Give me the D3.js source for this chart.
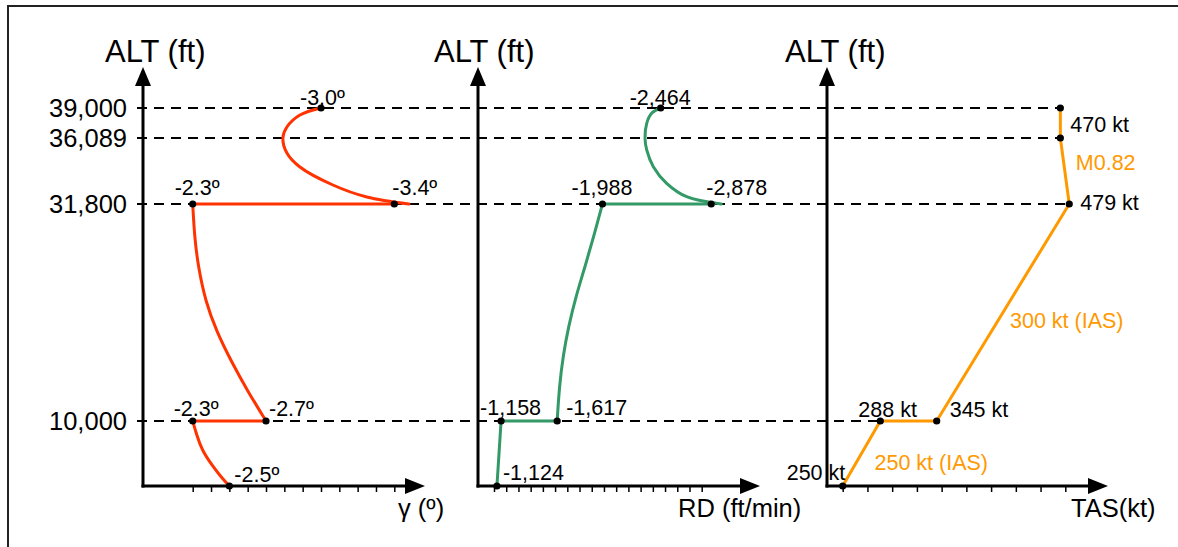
<!DOCTYPE html>
<html><head><meta charset="utf-8">
<script src="https://cdn.jsdelivr.net/npm/d3@7/dist/d3.min.js"></script>
<style>
body{margin:0;background:#fff;}
svg{display:block;}
text{font-family:"Liberation Sans",Arial,Helvetica,sans-serif;fill:#000;}
</style>
</head><body>
<svg id="chart" width="1178" height="547"></svg>
<script>
// ---------- DATA ----------
const altStops = [0, 10000, 31800, 36089, 39000];
const altTicks = [39000, 36089, 31800, 10000];

const gammaTicks = [2.3, 2.4, 2.5, 2.6, 2.7, 2.8, 2.9, 3.0, 3.1, 3.2, 3.3, 3.4];
const rdTicks = [1100, 1200, 1300, 1400, 1500, 1600, 1700, 1800, 1900, 2000, 2100, 2200, 2300, 2400, 2500, 2600, 2700, 2800];
const tasTicks = [250, 275, 300, 325, 350, 375, 400, 425, 450, 475];

// flight path angle (deg, magnitude) vs altitude
const gammaUpper = [[3.48,31800],[3.25,32255],[3.065,33035],[2.885,34204],[2.814,35114],[2.792,36089],[2.814,37156],[2.885,38321],[3.0,39000]];
const gammaStep31800 = [[2.3,31800],[3.4,31800]];
const gammaMid = [[2.3,31800],[2.31,28500],[2.33,25500],[2.37,22000],[2.43,19000],[2.51,16000],[2.6,13000],[2.7,10000]];
const gammaStep10000 = [[2.7,10000],[2.3,10000]];
const gammaLow = [[2.3,10000],[2.32,8000],[2.35,5500],[2.41,3000],[2.46,1200],[2.5,0]];
const gammaMarks = [[3.0,39000],[2.3,31800],[3.4,31800],[2.3,10000],[2.7,10000],[2.5,0]];

// rate of descent (ft/min, magnitude) vs altitude
const rdUpper = [[2960,31800],[2677,32274],[2513,33145],[2404,34225],[2350,35313],[2336,36089],[2350,37515],[2390,38486],[2464,39000]];
const rdStep31800 = [[1988,31800],[2878,31800]];
const rdMid = [[1988,31800],[1915,28500],[1845,25500],[1770,22500],[1710,19500],[1665,16500],[1635,13500],[1617,10000]];
const rdStep10000 = [[1617,10000],[1158,10000]];
const rdLow = [[1158,10000],[1124,0]];
const rdMarks = [[2464,39000],[1988,31800],[2878,31800],[1158,10000],[1617,10000],[1124,0]];

// true airspeed (kt) vs altitude
const tasProfile = [[250,0],[288,10000],[345,10000],[479,31800],[470,36089],[470,39000]];
const tasMarks = [[470,39000],[470,36089],[479,31800],[345,10000],[288,10000],[250,0]];
const tasSegmentNotes = ["M0.82", "300 kt (IAS)", "250 kt (IAS)"];

// ---------- LAYOUT / STYLE ----------
const RED = "#ff3300", GREEN = "#339966", ORANGE = "#ff9900";
const baseY = 486, topY = 67;
const LABEL_FS = 21.5;
const svg = d3.select("#chart");

const y = d3.scaleLinear().domain(altStops).range([486, 421, 204, 138, 108]);

const panels = [
  {key:"g", axisX:143, endX:425, scale:d3.scaleLinear().domain([2.3,3.4]).range([192.7,394.3]), ticks:gammaTicks,
   title:"ALT (ft)", titleX:105, xlabel:"γ (º)", xlabelX:398, color:RED},
  {key:"r", axisX:478, endX:760, scale:d3.scaleLinear().domain([1100,2800]).range([494,701.7]), ticks:rdTicks,
   title:"ALT (ft)", titleX:434, xlabel:"RD (ft/min)", xlabelX:678, color:GREEN},
  {key:"t", axisX:827, endX:1108, scale:d3.scaleLinear().domain([250,475]).range([842.7,1065.3]), ticks:tasTicks,
   title:"ALT (ft)", titleX:785, xlabel:"TAS(kt)", xlabelX:1071, color:ORANGE}
];
const [PG, PR, PT] = panels;

// frame
svg.append("path").attr("d","M8,547 L8,6 L1178,6").attr("fill","none").attr("stroke","#222").attr("stroke-width",2);

// dashed reference lines (end at the TAS profile)
const dashEnds = {39000:470, 36089:470, 31800:479, 10000:288};
svg.append("g").selectAll("line").data(altTicks).join("line")
  .attr("x1", PG.axisX - 6).attr("x2", d => PT.scale(dashEnds[d]))
  .attr("y1", d => y(d)).attr("y2", d => y(d))
  .attr("stroke","#000").attr("stroke-width",1.8).attr("stroke-dasharray","10,7");

// left altitude tick labels
const yAxis = d3.axisLeft(y).tickValues(altTicks).tickSize(0).tickPadding(16).tickFormat(d3.format(","));
const yg = svg.append("g").attr("transform",`translate(${PG.axisX},0)`).call(yAxis);
yg.select(".domain").remove();
yg.selectAll("text").attr("font-size",25.5).attr("font-family",'"Liberation Sans",Arial,sans-serif').attr("fill","#000").attr("dy","0.33em");

// axes for each panel
panels.forEach(p => {
  const g = svg.append("g");
  const xa = d3.axisBottom(p.scale).tickValues(p.ticks).tickSize(6).tickFormat("");
  const xg = g.append("g").attr("transform",`translate(0,${baseY})`).call(xa);
  xg.select(".domain").remove();
  xg.selectAll(".tick line").attr("stroke","#000").attr("stroke-width",1.5);
  // axis lines
  g.append("line").attr("x1",p.axisX).attr("x2",p.axisX).attr("y1",baseY+1.5).attr("y2",topY+14).attr("stroke","#000").attr("stroke-width",3);
  g.append("line").attr("x1",p.axisX-1.5).attr("x2",p.endX-14).attr("y1",baseY).attr("y2",baseY).attr("stroke","#000").attr("stroke-width",3);
  // arrowheads
  g.append("path").attr("d",`M${p.axisX},${topY} L${p.axisX-8},${topY+19} L${p.axisX+8},${topY+19} Z`).attr("fill","#000");
  g.append("path").attr("d",`M${p.endX},${baseY} L${p.endX-20},${baseY-8} L${p.endX-20},${baseY+8} Z`).attr("fill","#000");
  // titles
  g.append("text").attr("x",p.titleX).attr("y",62).attr("font-size",31).text(p.title);
  g.append("text").attr("x",p.xlabelX).attr("y",517).attr("font-size",25.5).text(p.xlabel);
});

// ---------- SERIES ----------
function drawLine(p, pts, curve){
  const line = d3.line().x(d => p.scale(d[0])).y(d => y(d[1])).curve(curve || d3.curveLinear);
  svg.append("path").datum(pts).attr("d",line).attr("fill","none")
    .attr("stroke",p.color).attr("stroke-width",3).attr("stroke-linejoin","round").attr("stroke-linecap","round");
}
const smooth = d3.curveCatmullRom.alpha(0.5);
const soft = d3.curveBasis;
drawLine(PG, gammaUpper, smooth);
drawLine(PG, gammaStep31800);
drawLine(PG, gammaMid, soft);
drawLine(PG, gammaStep10000);
drawLine(PG, gammaLow, soft);

drawLine(PR, rdUpper, smooth);
drawLine(PR, rdStep31800);
drawLine(PR, rdMid, soft);
drawLine(PR, rdStep10000);
drawLine(PR, rdLow);

drawLine(PT, tasProfile);

// markers
function drawMarks(p, pts){
  svg.append("g").selectAll("circle").data(pts).join("circle")
    .attr("cx", d => p.scale(d[0])).attr("cy", d => y(d[1])).attr("r",3.6).attr("fill","#000");
}
drawMarks(PG, gammaMarks);
drawMarks(PR, rdMarks);
drawMarks(PT, tasMarks);

// value labels (offsets are layout only)
const gammaLabelOffsets = [[-21,-3],[-18,-9],[-2,-9],[-19,-5],[3,-5],[5,-4]];
const rdLabelOffsets = [[-31,-3],[-31,-9],[-5,-9],[-21,-6],[9,-6],[6,-6]];
const tasLabelOffsets = [null,[10,-6],[11,6],[13,-4],[-22,-4],[-56,-6]];

function drawLabels(p, pts, offs, fmt){
  pts.forEach((d,i) => {
    if(!offs[i]) return;
    svg.append("text").attr("x", p.scale(d[0]) + offs[i][0]).attr("y", y(d[1]) + offs[i][1])
      .attr("font-size",LABEL_FS).text(fmt(d[0]));
  });
}
drawLabels(PG, gammaMarks, gammaLabelOffsets, v => "-" + v.toFixed(1) + "º");
drawLabels(PR, rdMarks, rdLabelOffsets, v => "-" + d3.format(",")(v));
drawLabels(PT, tasMarks, tasLabelOffsets, v => v + " kt");

// segment notes on TAS profile (placed next to segment midpoints)
const noteSegments = [[3,4],[2,3],[0,1]];
const noteOffsets = [[11,-1],[7,15],[13,16]];
tasSegmentNotes.forEach((t,i) => {
  const a = tasProfile[noteSegments[i][0]], b = tasProfile[noteSegments[i][1]];
  const mx = (PT.scale(a[0]) + PT.scale(b[0]))/2, my = (y(a[1]) + y(b[1]))/2;
  svg.append("text").attr("x", mx + noteOffsets[i][0]).attr("y", my + noteOffsets[i][1])
    .attr("font-size",LABEL_FS).style("fill",ORANGE).text(t);
});
</script>
</body></html>
